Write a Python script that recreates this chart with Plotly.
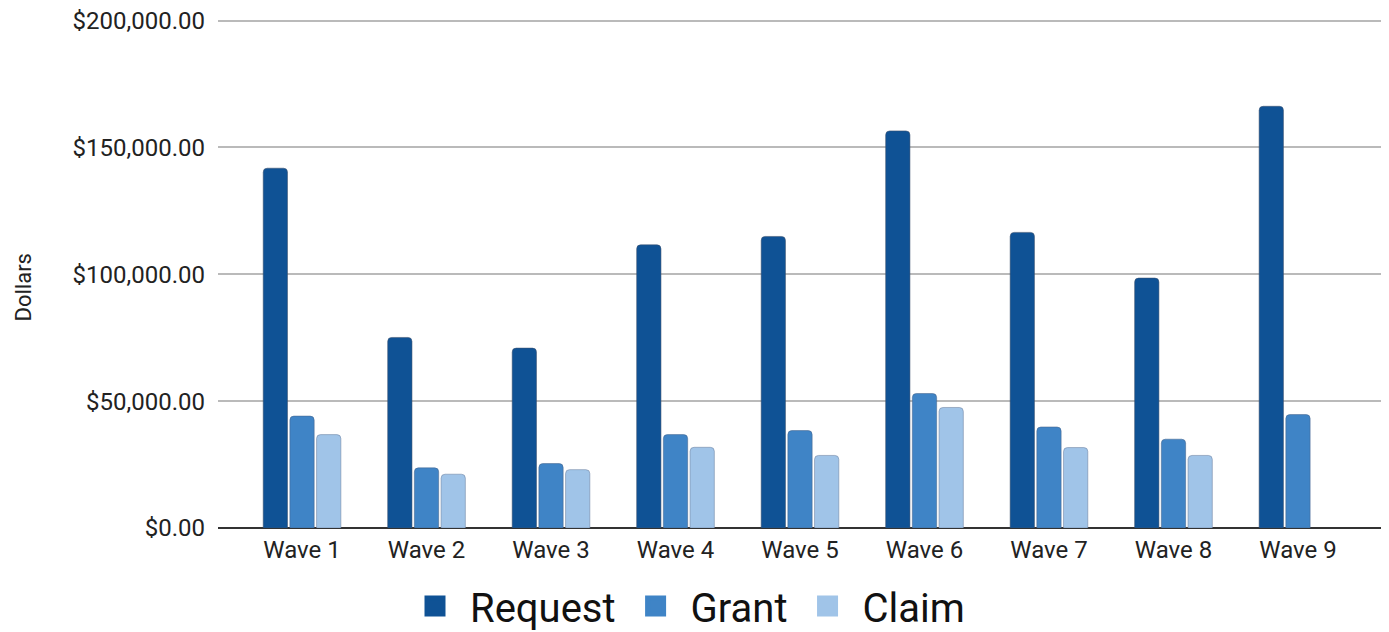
import plotly.graph_objects as go

categories = ["Wave 1", "Wave 2", "Wave 3", "Wave 4", "Wave 5", "Wave 6", "Wave 7", "Wave 8", "Wave 9"]
request = [141800, 75100, 70900, 111600, 114900, 156500, 116500, 98500, 166200]
grant = [44100, 23700, 25400, 36800, 38400, 53000, 39800, 35000, 44700]
claim = [36800, 21200, 23000, 31800, 28600, 47500, 31700, 28600, None]

series_names = ["Request", "Grant", "Claim"]
series_values = [request, grant, claim]
colors = ["#0f5295", "#3f84c6", "#a0c4e8"]
outline = ["rgba(60,80,110,0.55)", "rgba(70,100,140,0.55)", "rgba(110,130,160,0.55)"]

y_tickvals = [0, 50000, 100000, 150000, 200000]

# page body has an 8px margin; figure is sized/positioned to compensate
OFF = 8
W, H = 1389 - OFF, 632 - OFF
ML, MR, MT, MB = 218 - OFF, 7, 19 - OFF, 104
PW = W - ML - MR
PH = H - MT - MB

fig = go.Figure()
for name, vals, col, oc in zip(series_names, series_values, colors, outline):
    fig.add_trace(go.Bar(
        x=categories, y=vals, name=name,
        marker=dict(color=col, line=dict(color=oc, width=1), cornerradius=4),
        showlegend=False,
    ))
# legend proxies (bigger square swatches)
for name, col in zip(series_names, colors):
    fig.add_trace(go.Scatter(
        x=[None], y=[None], mode="markers", name=name,
        marker=dict(symbol="square", size=16, color=col, line=dict(color=col, width=5)),
        showlegend=True,
    ))

fig.update_layout(
    width=W, height=H,
    margin=dict(l=ML, r=MR, t=MT, b=MB, autoexpand=False),
    paper_bgcolor="white", plot_bgcolor="white",
    barmode="group", bargap=0.357, bargroupgap=0.09,
    font=dict(family="Roboto", size=24, color="#222222"),
    showlegend=True,
    legend=dict(
        orientation="h", xref="paper", x=(685 - OFF - ML) / PW, xanchor="center",
        yref="container", y=1 - (606 - OFF) / H, yanchor="middle",
        font=dict(family="Roboto", size=40, color="#111111"),
        itemsizing="trace", itemwidth=60, tracegroupgap=0,
    ),
    xaxis=dict(
        type="category", range=[-0.675, 8.675], automargin=False,
        showgrid=False, showline=False, ticks="", zeroline=False,
        tickfont=dict(size=24, color="#222222"), ticklabelstandoff=5,
        fixedrange=True,
    ),
    yaxis=dict(
        range=[0, 200600], tickvals=y_tickvals, tickformat="$,.2f", automargin=False,
        showgrid=True, gridcolor="#bababa", gridwidth=2,
        zeroline=True, zerolinecolor="#333333", zerolinewidth=2,
        showline=False, ticks="", ticklabelstandoff=12, ticklabeloverflow="allow",
        tickfont=dict(size=24, color="#222222"),
        fixedrange=True,
    ),
    annotations=[dict(
        text="Dollars", textangle=-90, xref="paper", yref="paper",
        x=(23 - OFF - ML) / PW, y=(H - MB - (287.5 - OFF)) / PH, showarrow=False,
        xanchor="center", yanchor="middle", borderpad=0,
        font=dict(family="Roboto", size=22, color="#222222"),
    )],
)

fig.write_html("out.html")
